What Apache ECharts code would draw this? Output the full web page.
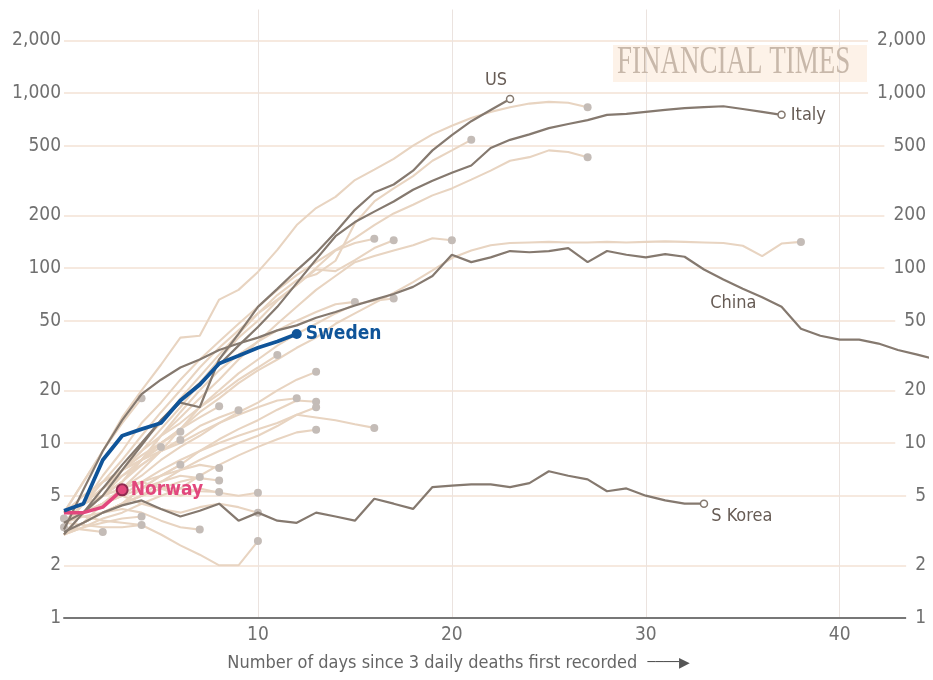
<!DOCTYPE html>
<html><head><meta charset="utf-8">
<script src="https://cdn.jsdelivr.net/npm/echarts@6/dist/echarts.min.js"></script>
<style>html,body{margin:0;padding:0;background:#fff}#c{width:933px;height:680px}</style>
</head><body><div id="c"></div>
<script>
// ---- data (daily deaths, index = days since 3 daily deaths first recorded) ----
const usDeaths      = [3, 4, 5.5, 7.5, 10, 13.5, 17, 16, 30, 42, 60, 76, 97, 122, 160, 215, 270, 300, 360, 470, 575, 690, 800, 925];
const italyDeaths   = [3.5, 4, 5, 7, 9.7, 13.5, 17.6, 22, 28, 36, 46, 60, 82, 112, 152, 183, 210, 240, 280, 315, 350, 385, 485, 540, 580, 630, 665, 700, 750, 760, 780, 800, 820, 830, 840, 810, 780, 750];
const chinaDeaths   = [3.2, 5.4, 9, 13.5, 19, 23, 27, 30, 34, 37, 40, 44, 47, 52, 56, 61, 66, 71, 78, 90, 119, 108, 115, 125, 123, 125, 130, 108, 125, 119, 115, 120, 116, 98, 86, 76, 68, 60, 45, 41, 39, 39, 37, 34, 32, 30];
const skoreaDeaths  = [3.1, 3.5, 4, 4.4, 4.7, 4.2, 3.8, 4.1, 4.5, 3.6, 4.0, 3.6, 3.5, 4.0, 3.8, 3.6, 4.8, 4.5, 4.2, 5.6, 5.7, 5.8, 5.8, 5.6, 5.9, 6.9, 6.5, 6.2, 5.3, 5.5, 5.0, 4.7, 4.5, 4.5];
const swedenDeaths  = [4.1, 4.5, 8, 11, 12, 13, 17.5, 21.5, 28.5, 31.5, 35, 38, 42];
const norwayDeaths  = [4.0, 4.0, 4.3, 5.4];

const other01 = [4, 6, 9, 14, 20, 28, 40, 41, 66, 75, 95, 127, 176, 220, 255, 318, 365, 420, 500, 580, 650, 720, 780, 830, 870, 890, 880, 830];
const other02 = [3, 4, 5, 7, 10, 13, 18, 24, 32, 42, 55, 70, 85, 92, 110, 180, 240, 285, 335, 410, 470, 540];
const other03 = [3.3, 4.5, 6.5, 9, 13, 17, 23, 30, 38, 48, 60, 75, 91, 108, 127, 148, 176, 205, 230, 260, 285, 320, 360, 410, 430, 470, 460, 430];
const other04 = [3, 4, 5, 6, 8, 10, 12, 15, 18, 22, 26, 30, 35, 40, 48, 55, 63, 72, 83, 97, 114, 126, 135, 139, 140, 141, 140, 140, 141, 140, 141, 142, 141, 140, 139, 134, 117, 138, 141];
const other05 = [3, 4, 5, 6, 8, 11, 14, 18, 23, 30, 38, 48, 60, 75, 90, 108, 117, 126, 135, 148, 144];
const other06 = [3.5, 4, 5, 7, 9, 12, 16, 22, 30, 40, 50, 65, 80, 100, 126, 139, 147];
const other07 = [3.5, 4.5, 6, 8, 11, 15, 20, 27, 35, 44, 55, 66, 80, 98, 96, 111, 130, 144];
const other08 = [3, 4, 5, 6, 8, 11, 15, 20, 26, 32, 38, 44, 50, 56, 62, 64];
const other09 = [3, 4, 4.5, 5.5, 7, 9, 12, 16, 20, 25, 30, 36, 42, 48, 55, 62, 65, 67];
const other10 = [3.5, 4.5, 6, 7, 9, 11, 13, 16, 19, 23, 27, 31.8];
const other11 = [3, 3.5, 4.5, 5.5, 6.5, 8, 9.5, 11, 13, 15, 17, 20, 23, 25.5];
const other12 = [4, 5, 6, 7, 8, 9, 10, 11.5, 13, 14.5, 16, 17.5, 18];
const other13 = [3, 3.5, 4, 4.5, 5.5, 6.5, 7.5, 9, 10.5, 12, 13.5, 15.5, 17.5, 17.2];
const other14 = [3.5, 4, 4.5, 5, 6, 7, 8, 9, 10, 11, 12, 13, 14.5, 16];
const other15 = [3, 3.3, 3.7, 4, 4.5, 5, 5.5, 6.5, 7.5, 8.5, 9.5, 10.5, 11.5, 11.9];
const other16 = [3, 3.5, 4, 4.5, 5, 6, 7, 8, 9, 10, 11, 12.5, 14.5, 14, 13.5, 12.8, 12.2];
const other17 = [3.5, 4.5, 5.5, 7, 8.5, 10, 12, 14, 16.2];
const other18 = [3, 4, 5, 6, 7.5, 9, 10.5, 12.5, 14, 15.4];
const other19 = [4, 6, 9, 13, 18];
const other20 = [3.5, 4.5, 5.5, 7, 8, 9.5];
const other21 = [3, 4, 5, 6.5, 8, 10, 11.6];
const other22 = [3.5, 4.5, 5.5, 6.5, 7.5, 9, 10.4];
const other23 = [3, 3.5, 4, 4.5, 5.5, 6.5, 7.5];
const other24 = [3, 3.5, 4, 4.5, 5, 5.5, 6, 6.4];
const other25 = [4, 4.5, 5, 5.5, 6, 6.5, 7, 7.5, 7.2];
const other26 = [3.5, 4, 4.5, 5, 5.5, 6, 6.5, 6.3, 6.1];
const other27 = [3, 3.5, 4, 4.5, 5, 5.5, 5.5, 5.3, 5.25];
const other28 = [4, 4.5, 5, 5.5, 6, 5.5, 5, 5.5, 5.2, 5, 5.2];
const other29 = [3.5, 4, 4.5, 5, 4.5, 4.2, 4, 4.3, 4.5, 4.3, 4.0];
const other30 = [4, 3.8, 3.6, 3.5, 3.4, 3.0, 2.6, 2.3, 2.0, 2.0, 2.75];
const other31 = [3.5, 3.8, 4, 4.2, 4, 3.6, 3.3, 3.2];
const other32 = [3, 3.3, 3.5, 3.7, 3.8];
const other33 = [3.5, 3.4, 3.3, 3.3, 3.4];
const other34 = [3.3, 3.2, 3.1];
const other35 = [3.7];
const other36 = [3.3];
const others = [other01, other02, other03, other04, other05, other06, other07, other08, other09, other10,
  other11, other12, other13, other14, other15, other16, other17, other18, other19, other20,
  other21, other22, other23, other24, other25, other26, other27, other28, other29, other30,
  other31, other32, other33, other34, other35, other36];

const yTickValues = [1, 2, 5, 10, 20, 50, 100, 200, 500, 1000, 2000];
const xTickValues = [10, 20, 30, 40];
const xAxisTitle = 'Number of days since 3 daily deaths first recorded';
const chinaLabelDay = 34;

// ---- styling ----
const FONT = "'DejaVu Sans Condensed','Liberation Sans Narrow','DejaVu Sans',sans-serif";
const GREY_TEXT = '#707070';
const DARK = '#85796f';
const DARK_TEXT = '#675c55';
const BLUE = '#0f5499';
const PINK = '#e2477d';

function fmt(v) { return Math.round(v).toLocaleString('en-US'); }

const series = [];
others.forEach((arr, k) => {
  const last = arr.length - 1;
  series.push({
    type: 'line', name: 'other' + (k + 1), z: 2, silent: true,
    data: arr.map((v, i) => [i, v]),
    showSymbol: true, showAllSymbol: true, symbol: 'circle',
    symbolSize: (val, p) => p.dataIndex === last ? 8 : 0,
    itemStyle: { color: '#c4bcb7' },
    lineStyle: { color: '#e8d4c1', width: 2.1 }
  });
});

function lineData(arr, labels) {
  return arr.map((v, i) => labels[i] ? { value: [i, v], label: Object.assign({ show: true }, labels[i]) } : [i, v]);
}
function highlight(name, arr, color, width, z, endSymbol, endSize, endStyle, labels, showEnd) {
  const last = arr.length - 1;
  return {
    type: 'line', name: name, z: z, silent: true,
    data: lineData(arr, labels),
    showSymbol: true, showAllSymbol: true, symbol: endSymbol,
    symbolSize: (val, p) => (showEnd && p.dataIndex === last) ? endSize : 0,
    itemStyle: endStyle,
    lineStyle: { color: color, width: width }
  };
}
const darkLabel = { color: DARK_TEXT, fontSize: 18, fontFamily: FONT };

const usLabels = {}; usLabels[usDeaths.length - 1] = Object.assign({ formatter: 'US', position: 'top', offset: [-14, 0] }, darkLabel);
const italyLabels = {}; italyLabels[italyDeaths.length - 1] = Object.assign({ formatter: 'Italy', position: 'right', distance: 5 }, darkLabel);
const chinaLabels = {}; chinaLabels[chinaLabelDay] = Object.assign({ formatter: 'China', position: 'bottom', offset: [10, 10] }, darkLabel);
const skLabels = {}; skLabels[skoreaDeaths.length - 1] = Object.assign({ formatter: 'S Korea', position: 'right', distance: 5, offset: [-2, 13] }, darkLabel);
const swLabels = {}; swLabels[swedenDeaths.length - 1] = { formatter: 'Sweden', position: 'right', distance: 4, color: BLUE, fontSize: 19, fontWeight: 'bold', fontFamily: FONT };
const noLabels = {}; noLabels[norwayDeaths.length - 1] = { formatter: 'Norway', position: 'right', distance: 2, color: PINK, fontSize: 19, fontWeight: 'bold', fontFamily: FONT };

const hollow = { color: '#fff', borderColor: DARK, borderWidth: 1.5 };
series.push(highlight('China', chinaDeaths, DARK, 2.2, 3, 'circle', 0, { color: DARK }, chinaLabels, false));
series.push(highlight('S Korea', skoreaDeaths, DARK, 2.2, 3, 'circle', 7, hollow, skLabels, true));
series.push(highlight('Italy', italyDeaths, DARK, 2.2, 3, 'circle', 7, hollow, italyLabels, true));
series.push(highlight('US', usDeaths, DARK, 2.2, 3, 'circle', 7, hollow, usLabels, true));
series.push(highlight('Norway', norwayDeaths, PINK, 3.5, 4, 'circle', 11, { color: PINK, borderColor: '#8e2b50', borderWidth: 2 }, noLabels, true));
series.push(highlight('Sweden', swedenDeaths, BLUE, 3.8, 4, 'circle', 10, { color: BLUE }, swLabels, true));

const axisLabelBase = { color: GREY_TEXT, fontSize: 19, fontFamily: FONT };

const option = {
  animation: false,
  backgroundColor: '#fff',
  grid: { left: 64, right: 3.5, top: 9.5, bottom: 62, containLabel: false },
  xAxis: {
    type: 'value', min: 0, max: 44.5,
    axisLine: { show: true, onZero: false, lineStyle: { color: '#777', width: 2 } },
    axisTick: { show: false, customValues: xTickValues },
    axisLabel: Object.assign({ customValues: xTickValues, margin: 8 }, axisLabelBase),
    splitLine: { show: true, lineStyle: { color: '#ebe3df', width: 1 } },
    name: xAxisTitle + '  {a|────}{b|▶}',
    nameLocation: 'middle', nameGap: 36,
    nameTextStyle: {
      color: '#666', fontSize: 18, fontFamily: FONT, padding: [0, 74, 0, 0],
      rich: { a: { color: '#555', fontSize: 13, fontFamily: 'DejaVu Sans', fontWeight: 'bold' }, b: { color: '#555', fontSize: 14, fontFamily: 'DejaVu Sans' } }
    }
  },
  yAxis: [
    {
      type: 'log', logBase: 10, min: 1, max: 3000, position: 'left',
      axisLine: { show: false }, axisTick: { show: false, customValues: yTickValues },
      axisLabel: Object.assign({ customValues: yTickValues, formatter: fmt, margin: 3 }, axisLabelBase),
      splitLine: { show: true, lineStyle: { color: '#f3e2d4', width: 1.6 } }
    },
    {
      type: 'log', logBase: 10, min: 1, max: 3000, position: 'right',
      axisLine: { show: false }, axisTick: { show: false, customValues: yTickValues },
      axisLabel: Object.assign({ customValues: yTickValues, formatter: fmt, inside: true, margin: -3,
        backgroundColor: '#fff', padding: [1, 4, 1, 9] }, axisLabelBase),
      splitLine: { show: false }
    }
  ],
  graphic: [
    { type: 'rect', x: 613, y: 45, shape: { width: 254, height: 37 }, style: { fill: '#fdf2e8' }, z: 0, silent: true },
    { type: 'text', x: 617, y: 42, scaleX: 0.675, z: 1, silent: true,
      style: { text: 'FINANCIAL TIMES', fontSize: 40, fontFamily: "'Liberation Serif','DejaVu Serif',serif", fill: '#c8b8aa', align: 'left', verticalAlign: 'top' } }
  ],
  series: series
};

const chart = echarts.init(document.getElementById('c'), null, { renderer: 'canvas' });
chart.setOption(option);
</script>
</body></html>
